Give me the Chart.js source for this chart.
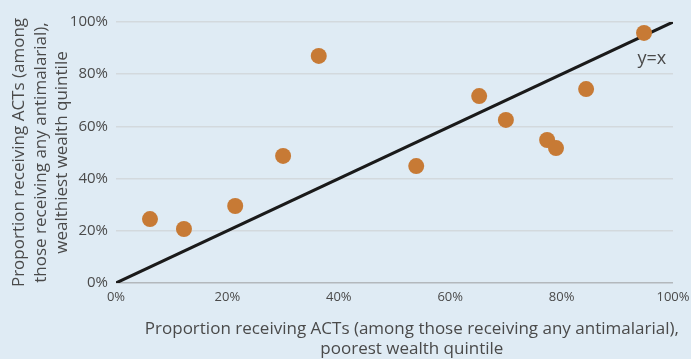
<!DOCTYPE html>
<html><head><meta charset="utf-8">
<script src="https://cdn.jsdelivr.net/npm/chart.js@4"></script>
<style>html,body{margin:0;padding:0;background:#dfebf4;}#wrap{width:691px;height:359px;}</style>
</head><body><div id="wrap"><canvas id="c" width="691" height="359"></canvas></div>
<script>
const poorest = [6.1, 12.2, 21.4, 30.0, 36.4, 53.9, 65.2, 70.0, 77.4, 79.0, 84.4, 94.8];
const wealthiest = [24.5, 20.7, 29.5, 48.7, 87.0, 44.8, 71.6, 62.5, 54.8, 51.7, 74.3, 95.8];
const diagonal = [0, 100];
const tickValues = [0, 20, 40, 60, 80, 100];
const xTitle = ["Proportion receiving ACTs (among those receiving any antimalarial),", "poorest wealth quintile"];
const yTitle = ["Proportion receiving ACTs (among", "those receiving any antimalarial),", "wealthiest wealth quintile"];
const lineLabel = "y=x";

const fontFam = "'Open Sans', 'Noto Sans', sans-serif";
const textColor = '#4a4a4a';

const labelPlugin = {
  id: 'lbl',
  afterDatasetsDraw(chart) {
    const {ctx, scales:{x,y}} = chart;
    ctx.save();
    ctx.font = "18px " + fontFam;
    ctx.fillStyle = textColor;
    ctx.textAlign = 'center';
    ctx.textBaseline = 'middle';
    ctx.fillText(lineLabel, x.getPixelForValue(96.2), y.getPixelForValue(85.8));
    ctx.font = "17px " + fontFam;
    const cx = chart.width * 0.596;
    const y0 = x.bottom - 30;
    xTitle.forEach((t, i) => ctx.fillText(t, cx, y0 + i * 20));
    ctx.restore();
  }
};

new Chart(document.getElementById('c'), {
  type: 'scatter',
  data: {
    datasets: [
      {
        data: poorest.map((v,i)=>({x:v,y:wealthiest[i]})),
        backgroundColor: '#c77a35',
        borderWidth: 0,
        pointRadius: 8,
        pointHoverRadius: 8,
        order: 1
      },
      {
        type: 'line',
        data: diagonal.map(v=>({x:v,y:v})),
        borderColor: '#1a1a1a',
        borderWidth: 3,
        pointRadius: 0,
        fill: false,
        order: 2
      }
    ]
  },
  plugins: [labelPlugin],
  options: {
    responsive: false,
    animation: false,
    events: [],
    layout: { padding: { top: 22, right: 18, left: 0, bottom: 0 } },
    plugins: { legend: { display: false }, tooltip: { enabled: false } },
    scales: {
      x: {
        type: 'linear', min: 0, max: 100,
        afterBuildTicks: s => { s.ticks = tickValues.map(v=>({value:v})); },
        afterFit: s => { s.height = 76; s.paddingRight = 0; s.paddingLeft = 0; },
        grid: { display: false, drawTicks: false },
        border: { display: false },
        ticks: { padding: 6, color: textColor, font: { family: fontFam, size: 13 }, callback: v => v + '%' , maxRotation: 0},
        title: { display: false }
      },
      y: {
        type: 'linear', min: 0, max: 100,
        afterBuildTicks: s => { s.ticks = tickValues.map(v=>({value:v})); },
        afterFit: s => { s.width = 116; },
        grid: { drawTicks: false, lineWidth: 1.5, color: c => c.tick && c.tick.value === 0 ? '#b3b8bc' : '#d3d9dd' },
        border: { display: false },
        ticks: { padding: 8, color: textColor, font: { family: fontFam, size: 15 }, callback: v => v + '%' },
        title: { display: true, text: yTitle, color: textColor, font: { family: fontFam, size: 17, lineHeight: 1.25 }, padding: { top: 9, bottom: 0 } }
      }
    }
  }
});
</script></body></html>
